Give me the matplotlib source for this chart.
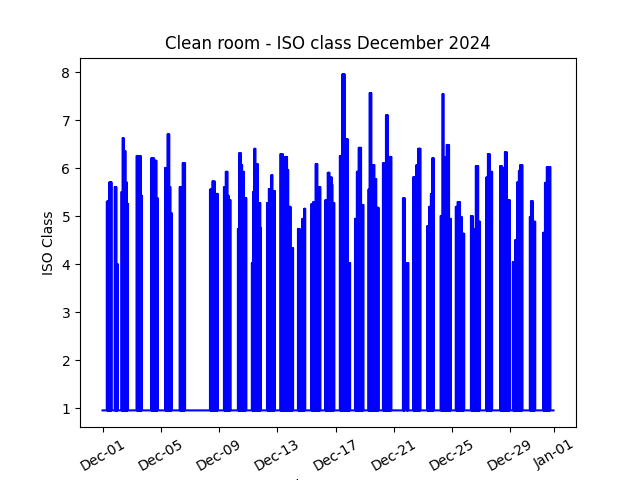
import numpy as np
import pandas as pd
import matplotlib.pyplot as plt
import matplotlib.dates as mdates

# Measured ISO class, as change points: hours since 2024-12-01 00:00 and the value from that hour on
step_hours = [0,
              7, 11, 15,
              20, 23, 25,
              31, 33, 35, 36, 38, 40, 42,
              56, 63, 65,
              80, 85, 89, 91,
              103, 106, 107, 110, 112, 114,
              127, 130, 132, 136,
              177, 181, 183, 184, 185, 190,
              200, 203, 206, 208, 211,
              223, 225, 228, 230, 231, 233, 237,
              246, 248, 250, 252, 256, 260, 261,
              271, 274, 277, 278, 280, 284,
              293, 297, 300, 304, 305, 306, 310, 314,
              322, 325, 329, 332, 334,
              344, 347, 351, 354, 359,
              367, 371, 374, 378, 379, 382,
              391, 395, 399, 400, 401, 404, 408,
              416, 419, 422, 426, 430,
              438, 440, 443, 445, 448, 451, 455,
              462, 467, 470, 471, 476,
              495, 498,
              501, 504,
              512, 517, 520, 524,
              535, 538, 541, 543, 546,
              557, 560, 562, 565, 567, 569, 570, 571, 574,
              582, 585, 589, 592, 596,
              607, 610, 615, 619, 622,
              632, 635, 638, 642,
              655, 658, 659, 663, 666, 671,
              676, 680, 683, 686, 688, 692,
              704, 706, 709, 713,
              726, 729, 732, 738,
              743]
step_values = [0.95,
               5.3, 5.7, 0.95,
               5.6, 4.0, 0.95,
               5.5, 6.62, 4.33, 6.35, 5.7, 5.25, 0.95,
               6.25, 5.42, 0.95,
               6.2, 6.15, 5.37, 0.95,
               6.0, 4.7, 6.7, 5.6, 5.06, 0.95,
               5.6, 4.8, 6.1, 0.95,
               5.55, 5.72, 4.9, 5.72, 5.46, 0.95,
               5.6, 5.92, 5.42, 5.33, 0.95,
               4.73, 6.31, 6.06, 4.56, 5.92, 5.37, 0.95,
               4.02, 5.5, 6.4, 6.08, 5.27, 4.75, 0.95,
               5.27, 5.56, 4.02, 5.85, 5.52, 0.95,
               6.29, 5.8, 6.23, 4.02, 5.96, 5.19, 4.33, 0.95,
               4.73, 4.04, 4.94, 5.15, 0.95,
               5.25, 5.29, 6.08, 5.6, 0.95,
               5.33, 5.9, 5.8, 5.65, 5.27, 0.95,
               6.25, 7.95, 6.6, 4.3, 6.6, 4.02, 0.95,
               4.94, 5.92, 6.42, 5.23, 0.95,
               5.55, 7.56, 5.0, 6.06, 5.77, 5.17, 0.95,
               6.1, 7.1, 4.5, 6.23, 0.95,
               5.37, 0.95,
               4.02, 0.95,
               5.81, 6.06, 6.4, 0.95,
               4.79, 5.19, 5.46, 6.2, 0.95,
               5.0, 7.54, 6.1, 6.23, 6.48, 4.6, 6.48, 4.94, 0.95,
               5.19, 5.29, 4.98, 4.63, 0.95,
               5.0, 4.73, 6.04, 4.88, 0.95,
               5.8, 6.29, 5.92, 0.95,
               6.04, 4.0, 6.0, 6.33, 5.33, 0.95,
               4.04, 4.5, 5.7, 5.94, 6.06, 0.95,
               4.98, 5.31, 4.88, 0.95,
               4.65, 5.69, 6.02, 0.95,
               0.95]
baseline = 0.95

# Hourly readings; between two readings above baseline the sensor drops back to baseline
hours = []
values = []
for i in range(len(step_hours) - 1):
    v = step_values[i]
    for h in range(step_hours[i], step_hours[i + 1]):
        if v > baseline:
            hours += [h, h, h + 1, h + 1]
            values += [baseline, v, v, baseline]
        else:
            hours += [h, h + 1]
            values += [v, v]

times = pd.Timestamp('2024-12-01') + pd.to_timedelta(hours, unit='h')

fig, ax = plt.subplots(figsize=(6.4, 4.8), dpi=100)
ax.plot(times, values, color='blue')
ax.xaxis.set_major_formatter(mdates.DateFormatter('%b-%d'))
plt.xticks(rotation=30)
ax.set_xlabel('timestamp')
ax.set_ylabel('ISO Class')
ax.set_title('Clean room - ISO class December 2024')

plt.savefig('out.png')
